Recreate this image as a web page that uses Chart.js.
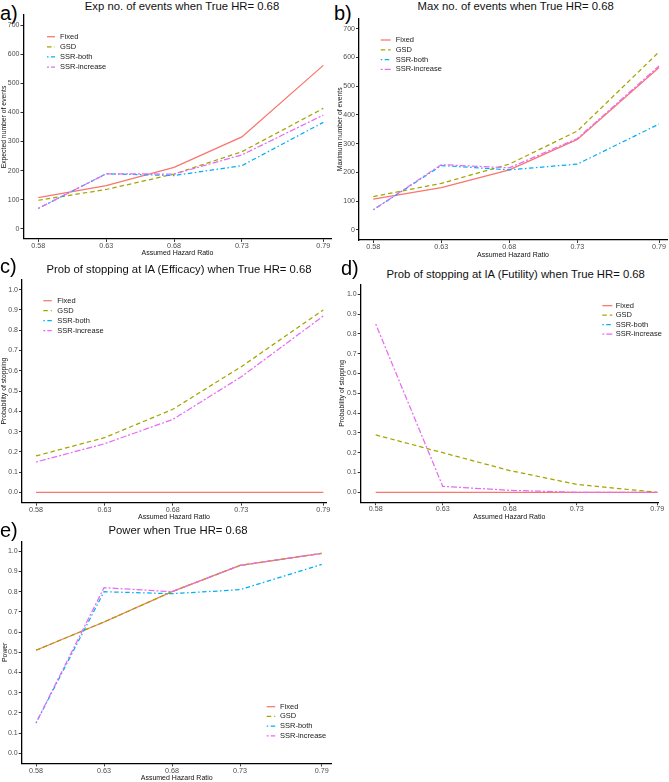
<!DOCTYPE html>
<html>
<head>
<meta charset="utf-8">
<script src="https://cdn.jsdelivr.net/npm/chart.js@4.4.1/dist/chart.umd.min.js"></script>
<style>
  body { margin: 0; background: #fff; }
  #fig { position: relative; width: 669px; height: 782px; overflow: hidden; font-family: "Liberation Sans", Arial, sans-serif; }
  #fig canvas { position: absolute; }
  .title { position: absolute; transform: translate(-50%, -50%); white-space: nowrap; font-size: 11.3px; line-height: 1; color: #111; }
  .tag { position: absolute; font-size: 20px; line-height: 1; color: #000; transform: translateY(-50%); }
</style>
</head>
<body>
<div id="fig"></div>
<script>
// assumed hazard ratios on the x axis
const hr = [0.58, 0.63, 0.68, 0.73, 0.79];
const seriesNames = ["Fixed", "GSD", "SSR-both", "SSR-increase"];

// a) expected number of events
const expFixed = [107, 148, 211, 316, 562];
const expGSD = [98, 135, 188, 265, 414];
const expSSRboth = [70, 189, 183, 217, 366];
const expSSRinc = [70, 189, 188, 254, 391];

// b) maximum number of events
const maxFixed = [107, 147, 209, 315, 565];
const maxGSD = [116, 162, 229, 344, 619];
const maxSSRboth = [70, 224, 209, 229, 368];
const maxSSRinc = [70, 227, 216, 318, 570];

// c) prob of stopping at IA for efficacy (SSR-both hidden under SSR-increase)
const effFixed = [0, 0, 0, 0, 0];
const effGSD = [0.18, 0.27, 0.41, 0.62, 0.90];
const effSSRboth = [null, null, null, null, null];
const effSSRinc = [0.15, 0.24, 0.36, 0.57, 0.87];

// d) prob of stopping at IA for futility (SSR-both hidden under SSR-increase)
const futFixed = [0, 0, 0, 0, 0];
const futGSD = [0.29, 0.20, 0.11, 0.04, 0.00];
const futSSRboth = [null, null, null, null, null];
const futSSRinc = [0.85, 0.03, 0.01, 0.00, 0.00];

// e) power
const powFixed = [0.51, 0.65, 0.80, 0.93, 0.99];
const powGSD = [0.51, 0.65, 0.80, 0.93, 0.99];
const powSSRboth = [0.15, 0.80, 0.79, 0.81, 0.935];
const powSSRinc = [0.15, 0.82, 0.80, 0.93, 0.99];

// y tick labels
const eventTicks = [0, 100, 200, 300, 400, 500, 600, 700];
const probTicks = [0, 0.1, 0.2, 0.3, 0.4, 0.5, 0.6, 0.7, 0.8, 0.9, 1.0];

// ggplot-like styles for the four designs
const colors = ["#F8766D", "#A3A500", "#00B0F6", "#E76BF3"];
const dashes = [[], [4.5, 3], [1.5, 2.5, 4.5, 2.5], [2, 2, 6, 2]];
const lineW = 1.25;
const fontFam = "'Liberation Sans', Arial, sans-serif";

// page layout of each panel (pixels)
const panels = [
  {
    tag: "a)", tagPos: [0, 13], title: "Exp no. of events when True HR= 0.68", titlePos: [182, 7],
    series: [expFixed, expGSD, expSSRboth, expSSRinc], ticks: eventTicks, yPad: 35, dec: 0,
    yTitle: "Expected number of events", yTitlePad: 0, xTitlePad: 1.5,
    canvas: { x: 0, y: 0, w: 333, h: 259 }, area: { l: 23.5, r: 331.5, t: 15.1, b: 238.9 }, p58: 38.3, p79: 323.3,
    legend: { sx: 47, len: 8, tx: 60, y0: 36.7, step: 10.1 }
  },
  {
    tag: "b)", tagPos: [334, 13], title: "Max no. of events when True HR= 0.68", titlePos: [515.7, 7],
    series: [maxFixed, maxGSD, maxSSRboth, maxSSRinc], ticks: eventTicks, yPad: 35, dec: 0,
    yTitle: "Maximum number of events", yTitlePad: 2, xTitlePad: 0,
    canvas: { x: 334, y: 0, w: 335, h: 259 }, area: { l: 359, r: 667, t: 18.6, b: 240 }, p58: 373.3, p79: 659,
    legend: { sx: 380.7, len: 10, tx: 395.7, y0: 40, step: 9.8 }
  },
  {
    tag: "c)", tagPos: [0, 266], title: "Prob of stopping at IA (Efficacy) when True HR= 0.68", titlePos: [179, 270],
    series: [effFixed, effGSD, effSSRboth, effSSRinc], ticks: probTicks, yPad: 0.05, dec: 1,
    yTitle: "Probability of stopping", yTitlePad: 0, xTitlePad: 0.5,
    canvas: { x: 0, y: 262, w: 333, h: 260 }, area: { l: 22, r: 326, t: 279.5, b: 502.6 }, p58: 36, p79: 323.3,
    legend: { sx: 43.3, len: 8.5, tx: 57.3, y0: 300.7, step: 10 }
  },
  {
    tag: "d)", tagPos: [341, 268], title: "Prob of stopping at IA (Futility) when True HR= 0.68", titlePos: [515.7, 275],
    series: [futFixed, futGSD, futSSRboth, futSSRinc], ticks: probTicks, yPad: 0.05, dec: 1,
    yTitle: "Probability of stopping", yTitlePad: 4.5, xTitlePad: 0.3,
    canvas: { x: 334, y: 262, w: 335, h: 260 }, area: { l: 360.7, r: 658, t: 284.4, b: 502.2 }, p58: 375.7, p79: 657.3,
    legend: { sx: 602.3, len: 10, tx: 615.7, y0: 305.7, step: 9.5 }
  },
  {
    tag: "e)", tagPos: [0, 529.5], title: "Power when True HR= 0.68", titlePos: [178, 531],
    series: [powFixed, powGSD, powSSRboth, powSSRinc], ticks: probTicks, yPad: 0.05, dec: 1,
    yTitle: "Power", yTitlePad: 1, xTitlePad: 0,
    canvas: { x: 0, y: 522, w: 333, h: 260 }, area: { l: 21.7, r: 331.7, t: 541.2, b: 763.4 }, p58: 36, p79: 321.7,
    legend: { sx: 266.7, len: 8.5, tx: 280, y0: 706.7, step: 9.7 }
  }
];

// legend drawn inside the plot, like ggplot legend.position = c(x, y)
const insideLegend = {
  id: "insideLegend",
  afterDraw(chart, args, opts) {
    const ctx = chart.ctx;
    ctx.save();
    ctx.font = "7.5px " + fontFam;
    ctx.textBaseline = "middle";
    ctx.fillStyle = "#1a1a1a";
    chart.data.datasets.forEach((ds, i) => {
      const y = opts.y0 + i * opts.step;
      ctx.strokeStyle = ds.borderColor;
      ctx.lineWidth = lineW;
      ctx.setLineDash(ds.borderDash);
      ctx.beginPath();
      ctx.moveTo(opts.sx, y);
      ctx.lineTo(opts.sx + opts.len, y);
      ctx.stroke();
      ctx.setLineDash([]);
      ctx.fillText(ds.label, opts.tx, y);
    });
    ctx.restore();
  }
};

const fig = document.getElementById("fig");

panels.forEach(p => {
  const c = p.canvas, a = p.area;

  const tag = document.createElement("div");
  tag.className = "tag";
  tag.style.left = p.tagPos[0] + "px";
  tag.style.top = p.tagPos[1] + "px";
  tag.textContent = p.tag;
  fig.appendChild(tag);

  const title = document.createElement("div");
  title.className = "title";
  title.style.left = p.titlePos[0] + "px";
  title.style.top = p.titlePos[1] + "px";
  title.textContent = p.title;
  fig.appendChild(title);

  const canvas = document.createElement("canvas");
  canvas.style.left = c.x + "px";
  canvas.style.top = c.y + "px";
  canvas.style.width = c.w + "px";
  canvas.style.height = c.h + "px";
  canvas.width = c.w;
  canvas.height = c.h;
  fig.appendChild(canvas);

  // x range so that 0.58 and 0.79 land where they are in the figure
  const perPx = (hr[hr.length - 1] - hr[0]) / (p.p79 - p.p58);
  const xMin = hr[0] - (p.p58 - a.l) * perPx;
  const xMax = hr[hr.length - 1] + (a.r - p.p79) * perPx;
  const yTop = p.ticks[p.ticks.length - 1];

  new Chart(canvas.getContext("2d"), {
    type: "line",
    data: {
      datasets: p.series.map((vals, i) => ({
        label: seriesNames[i],
        data: hr.map((x, j) => ({ x: x, y: vals[j] })),
        borderColor: colors[i],
        borderDash: dashes[i],
        borderWidth: lineW,
        pointRadius: 0,
        fill: false,
        tension: 0,
        order: 4 - i
      }))
    },
    options: {
      responsive: false,
      animation: false,
      events: [],
      layout: { padding: { left: 0, top: a.t - c.y, right: c.x + c.w - a.r, bottom: 0 } },
      plugins: {
        legend: { display: false },
        tooltip: { enabled: false },
        insideLegend: {
          sx: p.legend.sx - c.x, len: p.legend.len, tx: p.legend.tx - c.x,
          y0: p.legend.y0 - c.y, step: p.legend.step
        }
      },
      scales: {
        x: {
          type: "linear",
          min: xMin,
          max: xMax,
          afterBuildTicks: s => { s.ticks = hr.map(v => ({ value: v })); },
          afterFit: s => { s.height = c.y + c.h - a.b; },
          ticks: {
            autoSkip: false, maxRotation: 0, padding: 0,
            color: "#4d4d4d", font: { size: 7.2, family: fontFam },
            callback: v => v.toFixed(2)
          },
          grid: { drawOnChartArea: false, drawTicks: true, tickLength: 3, color: "#333" },
          border: { display: true, color: "#000", width: 1.3 },
          title: {
            display: true, text: "Assumed Hazard Ratio", color: "#111",
            font: { size: 7, family: fontFam },
            padding: { top: 0, bottom: p.xTitlePad }
          }
        },
        y: {
          type: "linear",
          min: p.ticks[0] - p.yPad,
          max: yTop + p.yPad,
          afterBuildTicks: s => { s.ticks = p.ticks.map(v => ({ value: v })); },
          afterFit: s => { s.width = a.l - c.x; },
          ticks: {
            padding: 1,
            color: "#4d4d4d", font: { size: 7, family: fontFam },
            callback: v => v.toFixed(p.dec)
          },
          grid: { drawOnChartArea: false, drawTicks: true, tickLength: 3, color: "#333" },
          border: { display: true, color: "#000", width: 1.3 },
          title: {
            display: true, text: p.yTitle, color: "#111",
            font: { size: 6.8, family: fontFam },
            padding: { top: p.yTitlePad, bottom: 0 }
          }
        }
      }
    },
    plugins: [insideLegend]
  });
});
</script>
</body>
</html>
